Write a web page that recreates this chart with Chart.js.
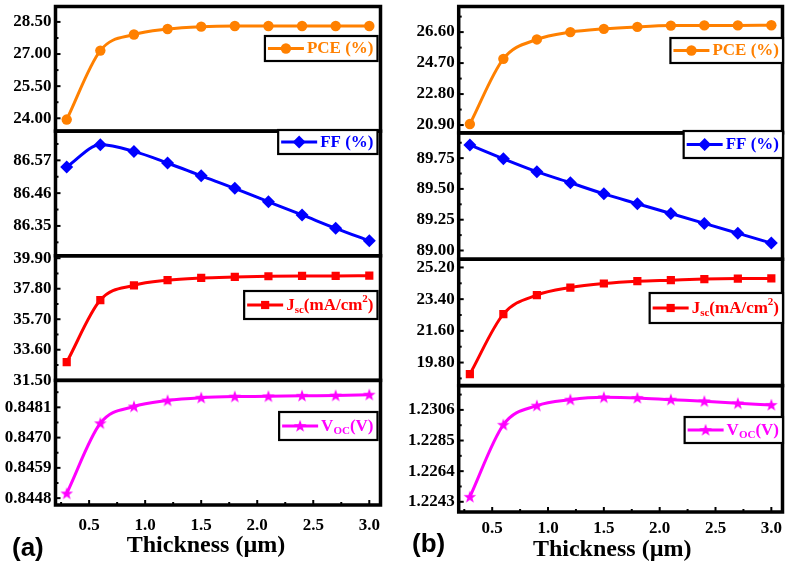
<!DOCTYPE html>
<html><head><meta charset="utf-8">
<script src="https://cdn.jsdelivr.net/npm/chart.js@4.4.0/dist/chart.umd.min.js"></script>
<style>
html,body{margin:0;padding:0;background:#fff;width:789px;height:566px;overflow:hidden;position:relative;}
.wrap{position:absolute;top:0;height:566px;}
#wa{left:0;width:392px;}
#wb{left:393px;width:396px;}
.lab{position:absolute;font-family:"Liberation Sans",Arial,sans-serif;font-weight:bold;font-size:26px;line-height:26px;color:#000;}
</style></head><body>
<div class="wrap" id="wa"><canvas id="ca"></canvas></div>
<div class="wrap" id="wb"><canvas id="cb"></canvas></div>
<div class="lab" style="left:12px;top:534px">(a)</div>
<div class="lab" style="left:412px;top:530px">(b)</div>
<script>
// ---------- data ----------
const thickness = [0.3, 0.6, 0.9, 1.2, 1.5, 1.8, 2.1, 2.4, 2.7, 3.0];
const xTicks = [0.5, 1.0, 1.5, 2.0, 2.5, 3.0];
const xTitle = 'Thickness (\u00b5m)';

// panel (a)
const pceA = [23.94, 27.16, 27.91, 28.17, 28.28, 28.31, 28.31, 28.31, 28.31, 28.31];
const ffA  = [86.548, 86.622, 86.600, 86.561, 86.518, 86.476, 86.431, 86.387, 86.342, 86.300];
const jscA = [32.74, 37.02, 38.03, 38.39, 38.54, 38.61, 38.66, 38.68, 38.68, 38.70];
const vocA = [0.84497, 0.84752, 0.84813, 0.84835, 0.84845, 0.84849, 0.84850, 0.84852, 0.84853, 0.84856];
const pceTicksA = [24.00, 25.50, 27.00, 28.50];
const ffTicksA  = [86.35, 86.46, 86.57];
const jscTicksA = [31.50, 33.60, 35.70, 37.80, 39.90];
const vocTicksA = [0.8448, 0.8459, 0.8470, 0.8481];

// panel (b)
const pceB = [20.96, 24.96, 26.15, 26.60, 26.80, 26.92, 27.00, 27.01, 27.01, 27.02];
const ffB  = [89.857, 89.745, 89.640, 89.550, 89.460, 89.380, 89.300, 89.220, 89.140, 89.060];
const jscB = [19.14, 22.55, 23.63, 24.06, 24.29, 24.42, 24.48, 24.54, 24.57, 24.58];
const vocB = [1.22464, 1.22958, 1.23089, 1.23130, 1.23146, 1.23142, 1.23130, 1.23119, 1.23105, 1.23094];
const pceTicksB = [20.90, 22.80, 24.70, 26.60];
const ffTicksB  = [89.00, 89.25, 89.50, 89.75];
const jscTicksB = [19.80, 21.60, 23.40, 25.20];
const vocTicksB = [1.2243, 1.2264, 1.2285, 1.2306];

// legend labels (parts: normal / sub / sup)
const pceLabel = [{t:'PCE (%)'}];
const ffLabel  = [{t:'FF (%)'}];
const jscLabel = [{t:'J'},{t:'sc',sub:true},{t:'(mA/cm'},{t:'2',sup:true},{t:')'}];
const vocLabel = [{t:'V'},{t:'OC',sub:true},{t:'(V)'}];

// ---------- styles ----------
const SERIF = '"Liberation Serif","Times New Roman",serif';
function makeStar(color){
  const c=document.createElement('canvas'); c.width=14; c.height=14;
  const g=c.getContext('2d'); g.fillStyle=color; g.beginPath();
  for(let i=0;i<10;i++){const r=i%2?2.7:6.6; const a=-Math.PI/2+i*Math.PI/5; g.lineTo(7+r*Math.cos(a),7.4+r*Math.sin(a));}
  g.closePath(); g.fill(); return c;
}
const STY = {
  pce:{color:'#FF8000', point:'circle', r:5.2, label:pceLabel},
  ff: {color:'#0000FF', point:'rectRot', r:6.5, label:ffLabel},
  jsc:{color:'#FF0000', point:'rect', r:5.8, label:jscLabel},
  voc:{color:'#FF00FF', point:makeStar('#FF00FF'), r:6, label:vocLabel}
};
const ORDER = ['pce','ff','jsc','voc'];

function fmt(dec){ return v => Number(v).toFixed(dec); }

// ---------- plugins ----------
const frame = {
  id:'frame',
  afterDatasetsDraw(chart, args, o){
    const ctx=chart.ctx, ca=chart.chartArea;
    ctx.save();
    ctx.strokeStyle='#000';
    ctx.lineWidth=2;
    ORDER.forEach(k=>{
      const s=chart.scales['y_'+k]; const t=s.ticks.map(x=>x.value);
      const step=t[1]-t[0];
      for(let i=-4;i<=t.length*2+4;i++){
        const v=t[0]+i*step/2;
        if(v<s.min-1e-12||v>s.max+1e-12) continue;
        const y=s.getPixelForValue(v);
        const L=(i%2===0)?5:3;
        ctx.beginPath(); ctx.moveTo(ca.left,y); ctx.lineTo(ca.left+L,y); ctx.stroke();
      }
    });
    const xs=chart.scales.x;
    for(let i=-2;i<=xTicks.length*2+2;i++){
      const v=xTicks[0]+i*0.25;
      if(v<xs.min||v>xs.max) continue;
      const x=xs.getPixelForValue(v); const L=(i%2===0)?5:3;
      ctx.beginPath(); ctx.moveTo(x,ca.bottom); ctx.lineTo(x,ca.bottom-L); ctx.stroke();
    }
    ctx.lineWidth=3.5;
    ORDER.forEach(k=>{
      const s=chart.scales['y_'+k];
      ctx.strokeRect(ca.left,s.top,ca.right-ca.left,s.bottom-s.top);
    });
    o.legends.forEach((L,i)=>drawLegend(ctx, STY[ORDER[i]], o.legendRight, L.top, L.h));
    ctx.restore();
  }
};

function drawLegend(ctx, st, right, top, h){
  const big='bold 17px '+SERIF, small='bold 11px '+SERIF;
  let tw=0;
  st.label.forEach(p=>{ctx.font=(p.sub||p.sup)?small:big; p.w=ctx.measureText(p.t).width; tw+=p.w;});
  const lineLen=36;
  const w=3+lineLen+3+tw+4;
  const left=right-w;
  ctx.fillStyle='#fff'; ctx.fillRect(left,top,w,h);
  ctx.lineWidth=2.2; ctx.strokeStyle='#000'; ctx.strokeRect(left,top,w,h);
  const my=top+h/2;
  ctx.strokeStyle=st.color; ctx.lineWidth=3;
  ctx.beginPath(); ctx.moveTo(left+3,my); ctx.lineTo(left+3+lineLen,my); ctx.stroke();
  ctx.fillStyle=st.color;
  try{
    Chart.helpers.drawPoint(ctx,{pointStyle:st.point,radius:st.r,borderWidth:0,rotation:0},left+3+lineLen/2,my);
  }catch(e){ctx.beginPath();ctx.arc(left+3+lineLen/2,my,st.r,0,7);ctx.fill();}
  let x=left+3+lineLen+3;
  ctx.fillStyle=st.color; ctx.textBaseline='middle'; ctx.textAlign='left';
  st.label.forEach(p=>{
    ctx.font=(p.sub||p.sup)?small:big;
    const dy=p.sub?5:(p.sup?-6:0.5);
    ctx.fillText(p.t,x,my+dy); x+=p.w;
  });
}

// ---------- builder ----------
function buildPanel(id, vals, ticks, decs, G){
  const scales={
    x:{type:'linear', position:'bottom', min:0.2, max:3.1,
       afterBuildTicks:s=>{s.ticks=xTicks.map(v=>({value:v}));},
       afterFit:s=>{s.height=G.xAxisH; s.paddingLeft=0; s.paddingRight=0;},
       grid:{display:false, drawTicks:false}, border:{display:false},
       ticks:{autoSkip:false, maxRotation:0, color:'#000', padding:G.tickPad, font:{family:SERIF, weight:'bold', size:17}, callback:fmt(1)},
       title:{display:true, text:xTitle+G.titleTrail, color:'#000', padding:{top:0,bottom:G.titlePadB}, font:{family:SERIF, weight:'bold', size:24}}
    }
  };
  const datasets=[];
  ORDER.forEach((k,i)=>{
    scales['y_'+k]={type:'linear', position:'left', stack:'p', stackWeight:1, weight:4-i, offset:false,
      min:G.ranges[k][0], max:G.ranges[k][1],
      afterBuildTicks:s=>{s.ticks=ticks[k].map(v=>({value:v}));},
      afterFit:s=>{s.width=G.yWidth; s.paddingTop=0; s.paddingBottom=0;},
      grid:{display:false, drawTicks:false}, border:{display:false},
      ticks:{autoSkip:false, color:'#000', padding:4, font:{family:SERIF, weight:'bold', size:17}, callback:fmt(decs[k])}
    };
    const st=STY[k];
    datasets.push({label:k, yAxisID:'y_'+k, xAxisID:'x',
      data:thickness.map((x,j)=>({x:x,y:vals[k][j]})),
      borderColor:st.color, backgroundColor:st.color, borderWidth:3,
      pointStyle:st.point, pointRadius:st.r, pointHoverRadius:st.r, pointBorderWidth:0,
      cubicInterpolationMode:'monotone', fill:false});
  });
  return new Chart(document.getElementById(id),{
    type:'line',
    data:{datasets},
    options:{responsive:true, maintainAspectRatio:false, animation:false,
      layout:{padding:{top:G.padTop, right:G.padRight, left:0, bottom:0}},
      scales,
      plugins:{legend:{display:false}, tooltip:{enabled:false}, frame:{legends:G.legends, legendRight:G.legendRight}}
    },
    plugins:[frame]
  });
}

buildPanel('ca',
  {pce:pceA, ff:ffA, jsc:jscA, voc:vocA},
  {pce:pceTicksA, ff:ffTicksA, jsc:jscTicksA, voc:vocTicksA},
  {pce:2, ff:2, jsc:2, voc:4},
  {yWidth:55.5, padTop:3.5, padRight:11.5, xAxisH:61, tickPad:10, titlePadB:5.6, titleTrail:'\u2003',
   ranges:{pce:[23.40,29.22], ff:[86.250,86.668], jsc:[31.49,40.07], voc:[0.84455,0.84908]},
   legends:[{top:36,h:25},{top:130,h:24},{top:291,h:28},{top:412,h:28}], legendRight:377.5});

buildPanel('cb',
  {pce:pceB, ff:ffB, jsc:jscB, voc:vocB},
  {pce:pceTicksB, ff:ffTicksB, jsc:jscTicksB, voc:vocTicksB},
  {pce:2, ff:2, jsc:2, voc:4},
  {yWidth:65.7, padTop:3.5, padRight:4, xAxisH:54, tickPad:6, titlePadB:1.6, titleTrail:'\u2002\u2009',
   ranges:{pce:[20.42,28.17], ff:[88.929,89.955], jsc:[18.49,25.666], voc:[1.2236,1.232264]},
   legends:[{top:38,h:25},{top:131,h:27},{top:293,h:30},{top:417,h:26}], legendRight:390});
</script>
</body></html>
